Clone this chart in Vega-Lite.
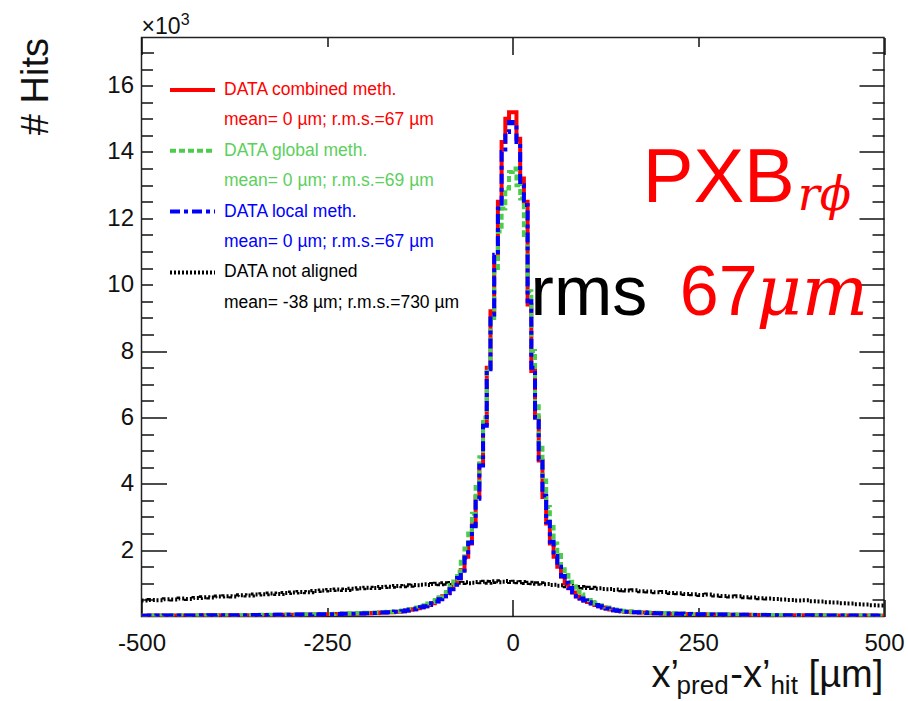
{
  "$schema": "https://vega.github.io/schema/vega-lite/v6.json",
  "width": 742.5,
  "height": 579,
  "autosize": {"type": "none"},
  "padding": {"left": 141.5, "top": 37.5, "right": 24, "bottom": 84.5},
  "background": "white",
  "config": {
    "view": {"stroke": "#222222", "strokeWidth": 1.5},
    "font": "Liberation Sans",
    "axis": {"grid": false, "domain": false, "tickColor": "#111111", "tickWidth": 1.5, "labelFont": "Liberation Sans", "labelFontSize": 24, "labelColor": "#111111", "zindex": 0}
  },
  "datasets": {
    "h": [
      {"x":-500,"combined":0.026,"global":0.029,"local":0.026,"notaligned":0.48},
      {"x":-490,"combined":0.027,"global":0.030,"local":0.027,"notaligned":0.50},
      {"x":-480,"combined":0.028,"global":0.031,"local":0.028,"notaligned":0.49},
      {"x":-470,"combined":0.029,"global":0.032,"local":0.029,"notaligned":0.52},
      {"x":-460,"combined":0.030,"global":0.034,"local":0.030,"notaligned":0.51},
      {"x":-450,"combined":0.031,"global":0.035,"local":0.031,"notaligned":0.54},
      {"x":-440,"combined":0.032,"global":0.036,"local":0.032,"notaligned":0.53},
      {"x":-430,"combined":0.033,"global":0.037,"local":0.033,"notaligned":0.56},
      {"x":-420,"combined":0.034,"global":0.038,"local":0.034,"notaligned":0.58},
      {"x":-410,"combined":0.035,"global":0.039,"local":0.035,"notaligned":0.57},
      {"x":-400,"combined":0.036,"global":0.040,"local":0.036,"notaligned":0.60},
      {"x":-390,"combined":0.037,"global":0.041,"local":0.037,"notaligned":0.61},
      {"x":-380,"combined":0.038,"global":0.043,"local":0.038,"notaligned":0.60},
      {"x":-370,"combined":0.040,"global":0.045,"local":0.040,"notaligned":0.64},
      {"x":-360,"combined":0.041,"global":0.046,"local":0.041,"notaligned":0.63},
      {"x":-350,"combined":0.043,"global":0.048,"local":0.043,"notaligned":0.66},
      {"x":-340,"combined":0.045,"global":0.050,"local":0.045,"notaligned":0.67},
      {"x":-330,"combined":0.047,"global":0.053,"local":0.047,"notaligned":0.69},
      {"x":-320,"combined":0.049,"global":0.055,"local":0.049,"notaligned":0.68},
      {"x":-310,"combined":0.051,"global":0.057,"local":0.051,"notaligned":0.71},
      {"x":-300,"combined":0.054,"global":0.060,"local":0.054,"notaligned":0.72},
      {"x":-290,"combined":0.057,"global":0.064,"local":0.057,"notaligned":0.74},
      {"x":-280,"combined":0.060,"global":0.067,"local":0.060,"notaligned":0.73},
      {"x":-270,"combined":0.063,"global":0.071,"local":0.063,"notaligned":0.77},
      {"x":-260,"combined":0.066,"global":0.074,"local":0.066,"notaligned":0.78},
      {"x":-250,"combined":0.070,"global":0.078,"local":0.070,"notaligned":0.80},
      {"x":-240,"combined":0.075,"global":0.084,"local":0.075,"notaligned":0.81},
      {"x":-230,"combined":0.080,"global":0.090,"local":0.080,"notaligned":0.80},
      {"x":-220,"combined":0.086,"global":0.096,"local":0.086,"notaligned":0.84},
      {"x":-210,"combined":0.092,"global":0.103,"local":0.092,"notaligned":0.85},
      {"x":-200,"combined":0.100,"global":0.112,"local":0.100,"notaligned":0.87},
      {"x":-190,"combined":0.108,"global":0.121,"local":0.108,"notaligned":0.86},
      {"x":-180,"combined":0.118,"global":0.132,"local":0.118,"notaligned":0.89},
      {"x":-170,"combined":0.130,"global":0.146,"local":0.130,"notaligned":0.90},
      {"x":-160,"combined":0.145,"global":0.162,"local":0.145,"notaligned":0.92},
      {"x":-150,"combined":0.16,"global":0.18,"local":0.16,"notaligned":0.91},
      {"x":-145,"combined":0.18,"global":0.20,"local":0.18,"notaligned":0.94},
      {"x":-140,"combined":0.20,"global":0.22,"local":0.20,"notaligned":0.93},
      {"x":-135,"combined":0.22,"global":0.25,"local":0.22,"notaligned":0.95},
      {"x":-130,"combined":0.25,"global":0.27,"local":0.24,"notaligned":0.94},
      {"x":-125,"combined":0.28,"global":0.31,"local":0.28,"notaligned":0.96},
      {"x":-120,"combined":0.31,"global":0.34,"local":0.31,"notaligned":0.97},
      {"x":-115,"combined":0.35,"global":0.39,"local":0.35,"notaligned":0.95},
      {"x":-110,"combined":0.40,"global":0.44,"local":0.40,"notaligned":0.98},
      {"x":-105,"combined":0.46,"global":0.50,"local":0.45,"notaligned":0.99},
      {"x":-100,"combined":0.53,"global":0.58,"local":0.52,"notaligned":0.97},
      {"x":-95,"combined":0.61,"global":0.68,"local":0.61,"notaligned":1.00},
      {"x":-90,"combined":0.71,"global":0.80,"local":0.70,"notaligned":0.99},
      {"x":-85,"combined":0.83,"global":0.95,"local":0.82,"notaligned":1.01},
      {"x":-80,"combined":0.97,"global":1.12,"local":0.96,"notaligned":1.00},
      {"x":-75,"combined":1.15,"global":1.35,"local":1.16,"notaligned":1.02},
      {"x":-70,"combined":1.40,"global":1.65,"local":1.38,"notaligned":1.01},
      {"x":-65,"combined":1.80,"global":2.05,"local":1.78,"notaligned":1.03},
      {"x":-60,"combined":2.20,"global":2.50,"local":2.22,"notaligned":1.00},
      {"x":-55,"combined":2.75,"global":3.10,"local":2.72,"notaligned":1.02},
      {"x":-50,"combined":3.60,"global":3.90,"local":3.55,"notaligned":1.04},
      {"x":-45,"combined":4.60,"global":4.80,"local":4.55,"notaligned":1.03},
      {"x":-40,"combined":5.80,"global":6.00,"local":5.75,"notaligned":1.05},
      {"x":-35,"combined":7.50,"global":7.50,"local":7.45,"notaligned":1.02},
      {"x":-30,"combined":9.20,"global":9.00,"local":9.10,"notaligned":1.04},
      {"x":-25,"combined":10.8,"global":10.4,"local":10.9,"notaligned":1.06},
      {"x":-20,"combined":12.5,"global":11.6,"local":12.3,"notaligned":1.03},
      {"x":-15,"combined":14.3,"global":12.3,"local":14.0,"notaligned":1.05},
      {"x":-10,"combined":15.0,"global":12.9,"local":14.6,"notaligned":1.07},
      {"x":-5,"combined":15.2,"global":13.4,"local":14.9,"notaligned":1.04},
      {"x":0,"combined":15.2,"global":13.5,"local":14.8,"notaligned":1.05},
      {"x":5,"combined":14.4,"global":13.0,"local":14.3,"notaligned":1.03},
      {"x":10,"combined":13.2,"global":12.6,"local":13.0,"notaligned":1.04},
      {"x":15,"combined":12.5,"global":11.5,"local":12.4,"notaligned":1.01},
      {"x":20,"combined":9.40,"global":9.80,"local":9.50,"notaligned":1.02},
      {"x":25,"combined":7.40,"global":8.00,"local":7.50,"notaligned":1.00},
      {"x":30,"combined":6.00,"global":6.40,"local":6.00,"notaligned":0.99},
      {"x":35,"combined":4.70,"global":5.20,"local":4.75,"notaligned":1.00},
      {"x":40,"combined":3.60,"global":4.10,"local":3.65,"notaligned":0.97},
      {"x":45,"combined":2.80,"global":3.30,"local":2.85,"notaligned":0.98},
      {"x":50,"combined":2.20,"global":2.70,"local":2.25,"notaligned":0.95},
      {"x":55,"combined":1.80,"global":2.20,"local":1.82,"notaligned":0.96},
      {"x":60,"combined":1.50,"global":1.85,"local":1.50,"notaligned":0.93},
      {"x":65,"combined":1.20,"global":1.50,"local":1.22,"notaligned":0.94},
      {"x":70,"combined":1.00,"global":1.25,"local":1.02,"notaligned":0.91},
      {"x":75,"combined":0.85,"global":1.05,"local":0.86,"notaligned":0.92},
      {"x":80,"combined":0.72,"global":0.90,"local":0.73,"notaligned":0.90},
      {"x":85,"combined":0.60,"global":0.76,"local":0.61,"notaligned":0.88},
      {"x":90,"combined":0.54,"global":0.66,"local":0.54,"notaligned":0.89},
      {"x":95,"combined":0.48,"global":0.57,"local":0.48,"notaligned":0.87},
      {"x":100,"combined":0.44,"global":0.50,"local":0.43,"notaligned":0.86},
      {"x":105,"combined":0.40,"global":0.44,"local":0.39,"notaligned":0.87},
      {"x":110,"combined":0.35,"global":0.39,"local":0.35,"notaligned":0.84},
      {"x":115,"combined":0.31,"global":0.34,"local":0.31,"notaligned":0.85},
      {"x":120,"combined":0.27,"global":0.30,"local":0.27,"notaligned":0.83},
      {"x":125,"combined":0.24,"global":0.27,"local":0.24,"notaligned":0.82},
      {"x":130,"combined":0.21,"global":0.24,"local":0.21,"notaligned":0.83},
      {"x":135,"combined":0.19,"global":0.21,"local":0.19,"notaligned":0.80},
      {"x":140,"combined":0.17,"global":0.19,"local":0.17,"notaligned":0.81},
      {"x":145,"combined":0.155,"global":0.17,"local":0.155,"notaligned":0.79},
      {"x":150,"combined":0.145,"global":0.162,"local":0.145,"notaligned":0.78},
      {"x":160,"combined":0.130,"global":0.146,"local":0.130,"notaligned":0.79},
      {"x":170,"combined":0.118,"global":0.132,"local":0.118,"notaligned":0.76},
      {"x":180,"combined":0.108,"global":0.121,"local":0.108,"notaligned":0.75},
      {"x":190,"combined":0.100,"global":0.112,"local":0.100,"notaligned":0.73},
      {"x":200,"combined":0.092,"global":0.103,"local":0.092,"notaligned":0.74},
      {"x":210,"combined":0.086,"global":0.096,"local":0.086,"notaligned":0.71},
      {"x":220,"combined":0.080,"global":0.090,"local":0.080,"notaligned":0.70},
      {"x":230,"combined":0.075,"global":0.084,"local":0.075,"notaligned":0.68},
      {"x":240,"combined":0.070,"global":0.078,"local":0.070,"notaligned":0.67},
      {"x":250,"combined":0.066,"global":0.074,"local":0.066,"notaligned":0.65},
      {"x":260,"combined":0.063,"global":0.071,"local":0.063,"notaligned":0.66},
      {"x":270,"combined":0.060,"global":0.067,"local":0.060,"notaligned":0.63},
      {"x":280,"combined":0.057,"global":0.064,"local":0.057,"notaligned":0.62},
      {"x":290,"combined":0.054,"global":0.060,"local":0.054,"notaligned":0.60},
      {"x":300,"combined":0.051,"global":0.057,"local":0.051,"notaligned":0.61},
      {"x":310,"combined":0.049,"global":0.055,"local":0.049,"notaligned":0.58},
      {"x":320,"combined":0.047,"global":0.053,"local":0.047,"notaligned":0.57},
      {"x":330,"combined":0.045,"global":0.050,"local":0.045,"notaligned":0.55},
      {"x":340,"combined":0.043,"global":0.048,"local":0.043,"notaligned":0.54},
      {"x":350,"combined":0.041,"global":0.046,"local":0.041,"notaligned":0.53},
      {"x":360,"combined":0.040,"global":0.045,"local":0.040,"notaligned":0.51},
      {"x":370,"combined":0.038,"global":0.043,"local":0.038,"notaligned":0.50},
      {"x":380,"combined":0.037,"global":0.041,"local":0.037,"notaligned":0.48},
      {"x":390,"combined":0.036,"global":0.040,"local":0.036,"notaligned":0.49},
      {"x":400,"combined":0.035,"global":0.039,"local":0.035,"notaligned":0.46},
      {"x":410,"combined":0.034,"global":0.038,"local":0.034,"notaligned":0.45},
      {"x":420,"combined":0.033,"global":0.037,"local":0.033,"notaligned":0.43},
      {"x":430,"combined":0.032,"global":0.036,"local":0.032,"notaligned":0.42},
      {"x":440,"combined":0.031,"global":0.035,"local":0.031,"notaligned":0.40},
      {"x":450,"combined":0.030,"global":0.034,"local":0.030,"notaligned":0.39},
      {"x":460,"combined":0.029,"global":0.032,"local":0.029,"notaligned":0.37},
      {"x":470,"combined":0.028,"global":0.031,"local":0.028,"notaligned":0.36},
      {"x":480,"combined":0.027,"global":0.030,"local":0.027,"notaligned":0.34},
      {"x":490,"combined":0.026,"global":0.029,"local":0.026,"notaligned":0.33},
      {"x":500,"combined":0.026,"global":0.029,"local":0.026,"notaligned":0.33}
    ]
  },
  "layer": [
    {
      "data": {"name": "h"},
      "transform": [{"fold": ["combined", "global", "local", "notaligned"], "as": ["key", "v"]}],
      "encoding": {
        "color": {
          "field": "key", "type": "nominal",
          "scale": {"domain": ["combined", "combined_s", "global", "global_s", "local", "local_s", "notaligned", "notaligned_s"], "range": ["#ff0000", "rgba(0,0,0,0)", "#4ccb4c", "rgba(0,0,0,0)", "#0000ff", "rgba(0,0,0,0)", "#000000", "rgba(0,0,0,0)"]},
          "legend": {
            "title": null, "orient": "none", "direction": "vertical", "legendX": 11.5, "legendY": 27.5,
            "padding": 15, "fillColor": "white", "strokeColor": null,
            "symbolType": "stroke", "symbolSize": 2025, "symbolStrokeWidth": 4,
            "clipHeight": 20, "rowPadding": 10.4,
            "labelFont": "Liberation Sans", "labelFontSize": 17.5, "labelOffset": 7, "labelLimit": 0,
            "labelColor": {"expr": "datum.value == 'combined' || datum.value == 'combined_s' ? '#ff0000' : datum.value == 'global' || datum.value == 'global_s' ? '#5ccf5c' : datum.value == 'local' || datum.value == 'local_s' ? '#0000ff' : '#000000'"},
            "labelExpr": "datum.value == 'combined' ? 'DATA combined meth.' : datum.value == 'combined_s' ? 'mean= 0 µm; r.m.s.=67 µm' : datum.value == 'global' ? 'DATA global meth.' : datum.value == 'global_s' ? 'mean= 0 µm; r.m.s.=69 µm' : datum.value == 'local' ? 'DATA local meth.' : datum.value == 'local_s' ? 'mean= 0 µm; r.m.s.=67 µm' : datum.value == 'notaligned' ? 'DATA not aligned' : 'mean= -38 µm; r.m.s.=730 µm'",
            "zindex": 2
          }
        },
        "strokeDash": {
          "field": "key", "type": "nominal",
          "scale": {"domain": ["combined", "combined_s", "global", "global_s", "local", "local_s", "notaligned", "notaligned_s"], "range": [[1, 0], [1, 0], [6, 3], [6, 3], [10, 4, 4, 4], [10, 4, 4, 4], [2, 2], [2, 2]]},
          "legend": {
            "title": null, "orient": "none", "direction": "vertical", "legendX": 11.5, "legendY": 27.5,
            "padding": 15, "fillColor": "white", "strokeColor": null,
            "symbolType": "stroke", "symbolSize": 2025, "symbolStrokeWidth": 4,
            "clipHeight": 20, "rowPadding": 10.4,
            "labelFont": "Liberation Sans", "labelFontSize": 17.5, "labelOffset": 7, "labelLimit": 0,
            "labelColor": {"expr": "datum.value == 'combined' || datum.value == 'combined_s' ? '#ff0000' : datum.value == 'global' || datum.value == 'global_s' ? '#5ccf5c' : datum.value == 'local' || datum.value == 'local_s' ? '#0000ff' : '#000000'"},
            "labelExpr": "datum.value == 'combined' ? 'DATA combined meth.' : datum.value == 'combined_s' ? 'mean= 0 µm; r.m.s.=67 µm' : datum.value == 'global' ? 'DATA global meth.' : datum.value == 'global_s' ? 'mean= 0 µm; r.m.s.=69 µm' : datum.value == 'local' ? 'DATA local meth.' : datum.value == 'local_s' ? 'mean= 0 µm; r.m.s.=67 µm' : datum.value == 'notaligned' ? 'DATA not aligned' : 'mean= -38 µm; r.m.s.=730 µm'",
            "zindex": 2
          }
        }
      },
      "layer": [
        {
          "transform": [{"filter": "datum.key == 'notaligned'"}],
          "mark": {"type": "line", "interpolate": "step-after", "strokeWidth": 4, "clip": true, "strokeCap": "butt"},
          "encoding": {
            "x": {
              "field": "x", "type": "quantitative",
              "scale": {"domain": [-500, 500], "nice": false, "zero": false},
              "axis": {
                "orient": "bottom", "title": null,
                "values": [-500, -250, 0, 250, 500],
                "tickSize": {"condition": {"test": "abs(datum.value) % 500 == 0", "value": -17}, "value": -9},
                "labelPadding": {"condition": {"test": "abs(datum.value) % 500 == 0", "value": 32}, "value": 24},
                "labelExpr": "toString(datum.value)",
                "labelFlush": false
              }
            },
            "y": {
              "field": "v", "type": "quantitative",
              "scale": {"domain": [0, 17.45], "nice": false, "zero": false},
              "axis": {
                "orient": "left",
                "values": [0.5, 1, 1.5, 2, 2.5, 3, 3.5, 4, 4.5, 5, 5.5, 6, 6.5, 7, 7.5, 8, 8.5, 9, 9.5, 10, 10.5, 11, 11.5, 12, 12.5, 13, 13.5, 14, 14.5, 15, 15.5, 16, 16.5, 17],
                "tickSize": {"condition": {"test": "datum.value % 2 == 0", "value": -25}, "value": -12},
                "labelPadding": {"condition": {"test": "datum.value % 2 == 0", "value": 33}, "value": 20},
                "labelExpr": "datum.value % 2 == 0 ? toString(datum.value) : ''",
                "title": "# Hits", "titleFont": "Liberation Sans", "titleFontSize": 38, "titleFontWeight": "normal", "titleColor": "#111111",
                "titleAngle": 270, "titleAlign": "right", "titleBaseline": "alphabetic", "titleX": -94.5, "titleY": 0
              }
            }
          }
        },
        {
          "transform": [{"filter": "datum.key == 'combined'"}],
          "mark": {"type": "line", "interpolate": "step-after", "strokeWidth": 4, "clip": true, "strokeCap": "butt"},
          "encoding": {
            "x": {
              "field": "x", "type": "quantitative",
              "scale": {"domain": [-500, 500], "nice": false, "zero": false},
              "axis": {
                "orient": "top", "title": null, "labels": false,
                "values": [-500, -250, 0, 250, 500],
                "tickSize": {"condition": {"test": "abs(datum.value) % 500 == 0", "value": -17}, "value": -9}
              }
            },
            "y": {
              "field": "v", "type": "quantitative",
              "scale": {"domain": [0, 17.45], "nice": false, "zero": false},
              "axis": {
                "orient": "right", "title": null, "labels": false,
                "values": [0.5, 1, 1.5, 2, 2.5, 3, 3.5, 4, 4.5, 5, 5.5, 6, 6.5, 7, 7.5, 8, 8.5, 9, 9.5, 10, 10.5, 11, 11.5, 12, 12.5, 13, 13.5, 14, 14.5, 15, 15.5, 16, 16.5, 17],
                "tickSize": {"condition": {"test": "datum.value % 2 == 0", "value": -25}, "value": -12}
              }
            }
          }
        },
        {
          "transform": [{"filter": "datum.key == 'global'"}],
          "mark": {"type": "line", "interpolate": "step-after", "strokeWidth": 4, "clip": true, "strokeCap": "butt"},
          "encoding": {
            "x": {"field": "x", "type": "quantitative", "scale": {"domain": [-500, 500], "nice": false, "zero": false}, "axis": null},
            "y": {"field": "v", "type": "quantitative", "scale": {"domain": [0, 17.45], "nice": false, "zero": false}, "axis": null}
          }
        },
        {
          "transform": [{"filter": "datum.key == 'local'"}],
          "mark": {"type": "line", "interpolate": "step-after", "strokeWidth": 4, "clip": true, "strokeCap": "butt"},
          "encoding": {
            "x": {"field": "x", "type": "quantitative", "scale": {"domain": [-500, 500], "nice": false, "zero": false}, "axis": null},
            "y": {"field": "v", "type": "quantitative", "scale": {"domain": [0, 17.45], "nice": false, "zero": false}, "axis": null}
          }
        }
      ],
      "resolve": {"axis": {"x": "independent", "y": "independent"}}
    },
    {
      "data": {"values": [{}]},
      "mark": {"type": "text", "text": "×10", "font": "Liberation Sans", "fontSize": 23, "color": "#111111", "align": "left", "baseline": "alphabetic"},
      "encoding": {"x": {"datum": -500, "type": "quantitative", "axis": null}, "y": {"datum": 17.57, "type": "quantitative", "axis": null}}
    },
    {
      "data": {"values": [{}]},
      "mark": {"type": "text", "text": "3", "font": "Liberation Sans", "fontSize": 16, "color": "#111111", "align": "left", "baseline": "alphabetic"},
      "encoding": {"x": {"datum": -447, "type": "quantitative", "axis": null}, "y": {"datum": 17.84, "type": "quantitative", "axis": null}}
    },
    {
      "data": {"values": [{}]},
      "mark": {"type": "text", "text": "PXB", "font": "Liberation Sans", "fontSize": 76, "color": "#ff0000", "align": "left", "baseline": "alphabetic"},
      "encoding": {"x": {"datum": 175, "type": "quantitative", "axis": null}, "y": {"datum": 12.48, "type": "quantitative", "axis": null}}
    },
    {
      "data": {"values": [{}]},
      "mark": {"type": "text", "text": "rϕ", "font": "DejaVu Serif", "fontStyle": "italic", "fontSize": 46, "color": "#ff0000", "align": "left", "baseline": "alphabetic"},
      "encoding": {"x": {"datum": 384, "type": "quantitative", "axis": null}, "y": {"datum": 12.24, "type": "quantitative", "axis": null}}
    },
    {
      "data": {"values": [{}]},
      "mark": {"type": "text", "text": "rms", "font": "Liberation Sans", "fontSize": 70, "color": "#000000", "align": "left", "baseline": "alphabetic"},
      "encoding": {"x": {"datum": 24, "type": "quantitative", "axis": null}, "y": {"datum": 9.08, "type": "quantitative", "axis": null}}
    },
    {
      "data": {"values": [{}]},
      "mark": {"type": "text", "text": "67", "font": "Liberation Sans", "fontSize": 70, "color": "#ff0000", "align": "left", "baseline": "alphabetic"},
      "encoding": {"x": {"datum": 225, "type": "quantitative", "axis": null}, "y": {"datum": 9.08, "type": "quantitative", "axis": null}}
    },
    {
      "data": {"values": [{}]},
      "mark": {"type": "text", "text": "μm", "font": "DejaVu Serif", "fontStyle": "italic", "fontSize": 70, "color": "#ff0000", "align": "left", "baseline": "alphabetic"},
      "encoding": {"x": {"datum": 328, "type": "quantitative", "axis": null}, "y": {"datum": 9.08, "type": "quantitative", "axis": null}}
    },
    {
      "data": {"values": [{}]},
      "mark": {"type": "text", "text": "x’", "font": "Liberation Sans", "fontSize": 38, "color": "#111111", "align": "left", "baseline": "alphabetic"},
      "encoding": {"x": {"datum": 187, "type": "quantitative", "axis": null}, "y": {"datum": -2.13, "type": "quantitative", "axis": null}}
    },
    {
      "data": {"values": [{}]},
      "mark": {"type": "text", "text": "pred", "font": "Liberation Sans", "fontSize": 26, "color": "#111111", "align": "left", "baseline": "alphabetic"},
      "encoding": {"x": {"datum": 220.7, "type": "quantitative", "axis": null}, "y": {"datum": -2.34, "type": "quantitative", "axis": null}}
    },
    {
      "data": {"values": [{}]},
      "mark": {"type": "text", "text": "-x’", "font": "Liberation Sans", "fontSize": 38, "color": "#111111", "align": "left", "baseline": "alphabetic"},
      "encoding": {"x": {"datum": 293, "type": "quantitative", "axis": null}, "y": {"datum": -2.13, "type": "quantitative", "axis": null}}
    },
    {
      "data": {"values": [{}]},
      "mark": {"type": "text", "text": "hit", "font": "Liberation Sans", "fontSize": 26, "color": "#111111", "align": "left", "baseline": "alphabetic"},
      "encoding": {"x": {"datum": 347, "type": "quantitative", "axis": null}, "y": {"datum": -2.34, "type": "quantitative", "axis": null}}
    },
    {
      "data": {"values": [{}]},
      "mark": {"type": "text", "text": "[µm]", "font": "Liberation Sans", "fontSize": 38, "color": "#111111", "align": "right", "baseline": "alphabetic"},
      "encoding": {"x": {"datum": 499, "type": "quantitative", "axis": null}, "y": {"datum": -2.13, "type": "quantitative", "axis": null}}
    }
  ],
  "resolve": {"axis": {"x": "independent", "y": "independent"}}
}
